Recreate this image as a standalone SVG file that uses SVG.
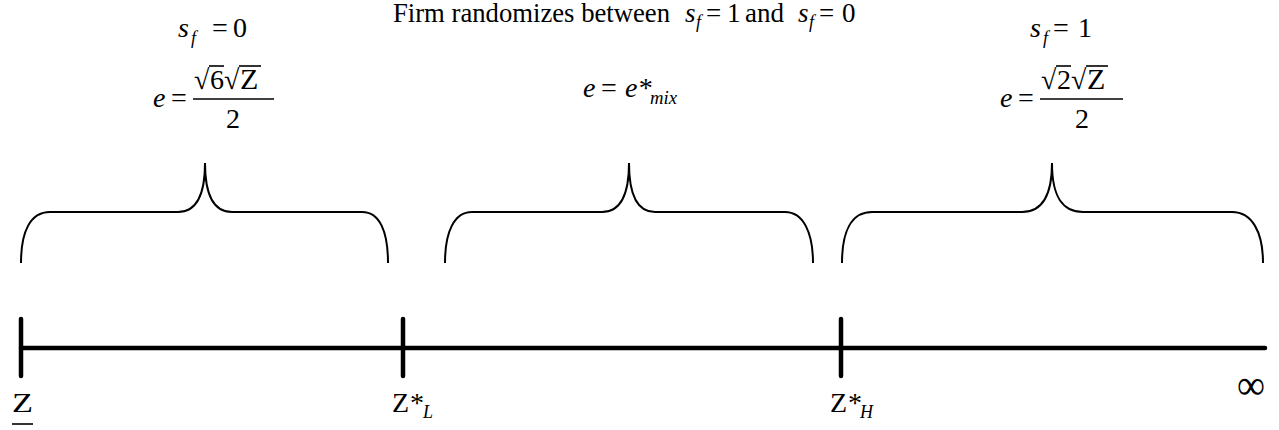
<svg xmlns="http://www.w3.org/2000/svg" width="1279" height="430" viewBox="0 0 1279 430">
<style>
text{font-family:"Liberation Serif","Times New Roman",serif;font-size:28px;fill:#000}
.t{font-size:27px}
.i{font-style:italic}
.sub{font-size:18px;font-style:italic}
.brace{fill:none;stroke:#000;stroke-width:2}
.axis{stroke:#000;stroke-width:4.5;stroke-linecap:round}
.thin{stroke:#000;stroke-width:1.6}
</style>
<rect width="1279" height="430" fill="#fff"/>
<g id="title">
<text x="393" y="22" class="t" textLength="277" lengthAdjust="spacingAndGlyphs">Firm randomizes between</text>
<text x="685" y="22" class="t i">s</text><text x="696" y="28" class="sub">f</text>
<text x="706" y="22" class="t">=</text><text x="727" y="22" class="t">1</text><text x="745" y="22" class="t">and</text>
<text x="798" y="22" class="t i">s</text><text x="809" y="28" class="sub">f</text>
<text x="819" y="22" class="t">=</text><text x="842" y="22" class="t">0</text>
</g>
<g id="left-label">
<text x="178" y="37" class="i">s</text><text x="191" y="44" class="sub">f</text>
<text x="212" y="37">=</text><text x="233" y="37">0</text>
<text x="153" y="107" class="i">e</text><text x="171" y="107">=</text>
<text x="194" y="89">√</text><text x="210" y="89">6</text>
<text x="224" y="89">√</text><text x="240" y="89" style="font-size:30px">Z</text>
<line class="thin" x1="209" y1="66" x2="224" y2="66"/>
<line class="thin" x1="239" y1="66" x2="261" y2="66"/>
<line class="thin" x1="193" y1="99" x2="274" y2="99"/>
<text x="233" y="128" text-anchor="middle">2</text>
</g>
<g id="middle-label">
<text x="583" y="97" class="i">e</text><text x="601" y="97">=</text>
<text x="625" y="97" class="i">e*</text><text x="650" y="104" class="sub" textLength="27" lengthAdjust="spacingAndGlyphs">mix</text>
</g>
<g id="right-label">
<text x="1030" y="37" class="i">s</text><text x="1043" y="44" class="sub">f</text>
<text x="1053" y="37">=</text><text x="1078" y="37">1</text>
<text x="1000" y="107" class="i">e</text><text x="1018" y="107">=</text>
<text x="1041" y="89">√</text><text x="1057" y="89">2</text>
<text x="1071" y="89">√</text><text x="1087" y="89" style="font-size:30px">Z</text>
<line class="thin" x1="1056" y1="66" x2="1071" y2="66"/>
<line class="thin" x1="1086" y1="66" x2="1108" y2="66"/>
<line class="thin" x1="1040" y1="99" x2="1123" y2="99"/>
<text x="1082" y="128" text-anchor="middle">2</text>
</g>
<g id="braces">
<path class="brace" d="M21,263 C21,232 30,212 50,212 L178,212 C195,212 205,198 205,163 C205,198 215,212 232,212 L362,212 C380,212 388,232 388,263"/>
<path class="brace" d="M445,263 C445,232 454,212 472,212 L602,212 C619,212 629,198 629,163 C629,198 639,212 655,212 L785,212 C803,212 813,232 813,263"/>
<path class="brace" d="M842,263 C842,232 851,212 872,212 L1022,212 C1040,212 1052,198 1052,163 C1052,198 1063,212 1083,212 L1232,212 C1252,212 1263,232 1263,263"/>
</g>
<g id="connectors">
<line class="axis" x1="21" y1="348" x2="1265" y2="348"/>
<line class="axis" x1="21" y1="319" x2="21" y2="376"/>
<line class="axis" x1="403" y1="319" x2="403" y2="376"/>
<line class="axis" x1="841" y1="319" x2="841" y2="376"/>
</g>
<g id="axis-labels">
<text x="12" y="412" textLength="21" lengthAdjust="spacingAndGlyphs">Z</text>
<line class="thin" x1="12" y1="424" x2="33" y2="424"/>
<text x="392" y="412">Z</text><text x="410" y="412">*</text><text x="423" y="418" class="sub">L</text>
<text x="830" y="412">Z</text><text x="848" y="412">*</text><text x="860" y="418" class="sub">H</text>
<text x="1237" y="399" style="font-size:42px" textLength="28" lengthAdjust="spacingAndGlyphs">∞</text>
</g>
</svg>
